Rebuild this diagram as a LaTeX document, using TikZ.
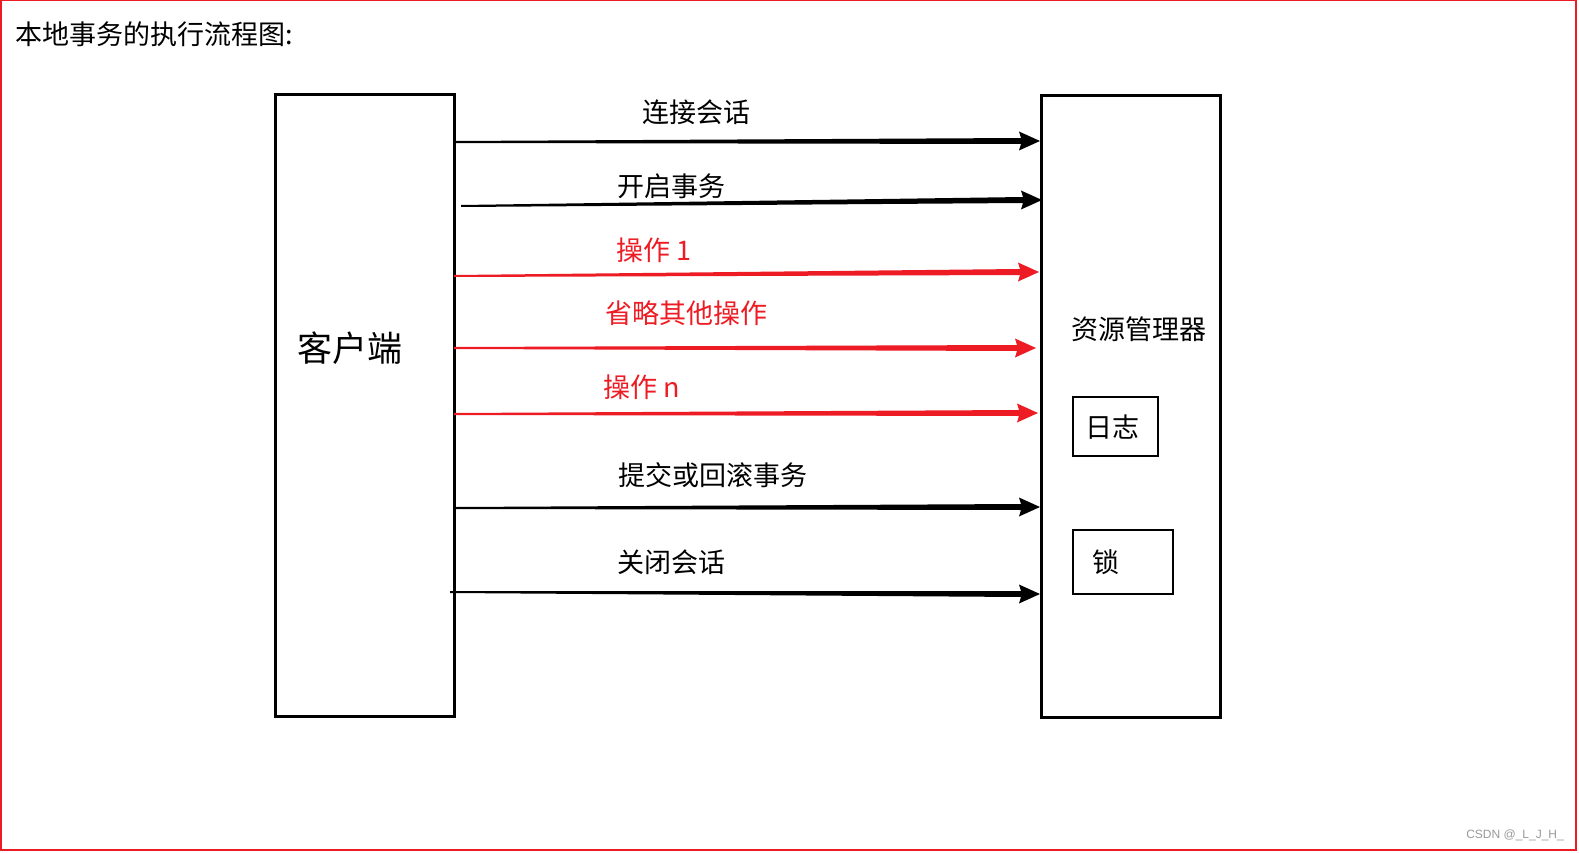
\documentclass[tikz,border=0pt]{standalone}
\usepackage{fontspec}
\setmainfont{Noto Sans CJK SC}
\newfontfamily\wmfont{Liberation Sans}
\usetikzlibrary{calc}
\definecolor{arrred}{HTML}{ED1C24}
\definecolor{wmgray}{HTML}{9A9A9A}
\tikzset{
  bigbox/.style={draw=black, line width=3pt},
  smallbox/.style={draw=black, line width=2pt, fill=white},
  lbl/.style={inner sep=0pt, font=\fontsize{27}{31}\selectfont},
  redlbl/.style={lbl, text=arrred},
}
\newcommand\taperarrow[3]{%
  \fill[#3] ($(#1)+(0,-1)$) -- ($(#2)+(-19,-3)$) -- ($(#2)+(-21,-9.5)$) -- (#2)
     -- ($(#2)+(-21,9.5)$) -- ($(#2)+(-19,3)$) -- ($(#1)+(0,1)$) -- cycle;}
\begin{document}
\begin{tikzpicture}[x=1pt,y=-1pt]
\useasboundingbox (0,0) rectangle (1579,853);
\fill[white] (0,0) rectangle (1579,853);
\draw[arrred, line width=1.5pt] (0.75,0.75) rectangle (1576,850);

\node[anchor=west, lbl] (title) at (15,34) {本地事务的执行流程图:};

\draw[bigbox] (275,95) rectangle (454,716);
\draw[bigbox] (1041,96) rectangle (1220,717);
\node[inner sep=0pt, font=\fontsize{35}{40}\selectfont] (client) at (350,348) {客户端};
\node[lbl] (rm) at (1139,329) {资源管理器};

\draw[smallbox] (1073,397) rectangle (1158,456);
\node[lbl] (log) at (1112,427) {日志};
\draw[smallbox] (1073,530) rectangle (1173,594);
\node[lbl] (lock) at (1106,562) {锁};

% arrow endpoints
\coordinate (s1) at (454,142); \coordinate (e1) at (1040,141);
\coordinate (s2) at (461,206); \coordinate (e2) at (1042,200);
\coordinate (s3) at (454,276); \coordinate (e3) at (1039,272);
\coordinate (s4) at (454,348); \coordinate (e4) at (1036,348);
\coordinate (s5) at (454,414); \coordinate (e5) at (1038,413);
\coordinate (s6) at (456,508); \coordinate (e6) at (1040,507);
\coordinate (s7) at (450,592); \coordinate (e7) at (1040,594);

\taperarrow{s1}{e1}{black}
\taperarrow{s2}{e2}{black}
\taperarrow{s3}{e3}{arrred}
\taperarrow{s4}{e4}{arrred}
\taperarrow{s5}{e5}{arrred}
\taperarrow{s6}{e6}{black}
\taperarrow{s7}{e7}{black}

\node[lbl] (l1) at (696,112) {连接会话};
\node[lbl] (l2) at (671,186) {开启事务};
\node[redlbl, anchor=west] (l3) at (616,250) {操作 1};
\node[redlbl] (l4) at (686,313) {省略其他操作};
\node[redlbl, anchor=west] (l5) at (603,387) {操作 n};
\node[lbl] (l6) at (713,475) {提交或回滚事务};
\node[lbl] (l7) at (671,562) {关闭会话};

\node[anchor=east, inner sep=0pt, text=wmgray, font=\wmfont\fontsize{12}{14}\selectfont] (wm) at (1564,835) {CSDN @\_L\_J\_H\_};
\end{tikzpicture}
\end{document}
